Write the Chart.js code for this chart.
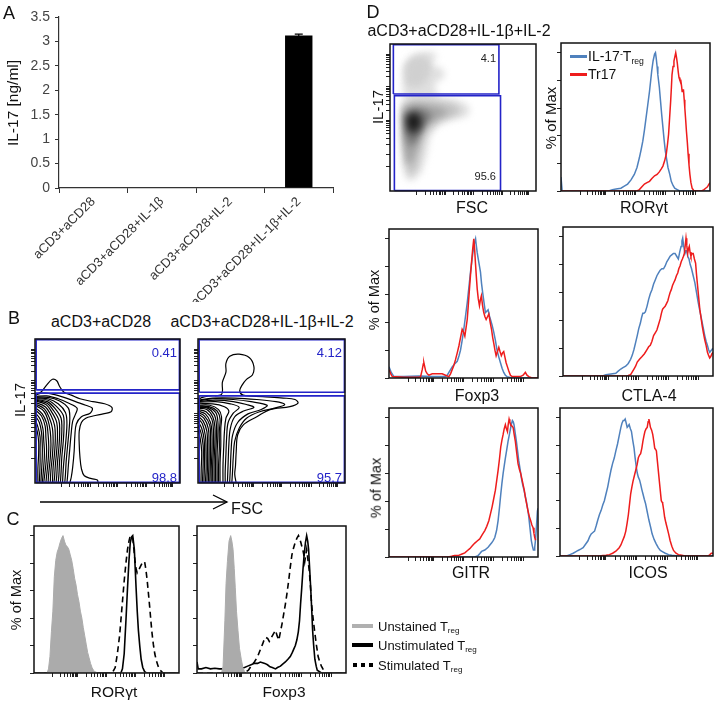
<!DOCTYPE html>
<html><head><meta charset="utf-8">
<script src="https://cdn.jsdelivr.net/npm/chart.js@4.4.1/dist/chart.umd.min.js"></script>
<style>
html,body{margin:0;padding:0;background:#fff;}
body{width:718px;height:705px;position:relative;overflow:hidden;font-family:"Liberation Sans",Arial,sans-serif;color:#111;}
canvas{position:absolute;}
.t{position:absolute;white-space:nowrap;transform:translate(-50%,-50%);line-height:1;}
.rot{transform:translate(-50%,-50%) rotate(-90deg);}
.gn{position:absolute;white-space:nowrap;line-height:1;transform:translate(-100%,-50%);}
.lg{position:absolute;white-space:nowrap;line-height:1;transform:translate(0,-50%);}
sub{font-size:0.62em;vertical-align:-0.3em;line-height:0;}
sup{font-size:0.62em;vertical-align:0.5em;line-height:0;}
.sw{position:absolute;}
</style></head><body>
<script>
// ---------------- DATA ----------------
// Panel A
const categoriesA = ['aCD3+aCD28', 'aCD3+aCD28+IL-1\u03B2', 'aCD3+aCD28+IL-2', 'aCD3+aCD28+IL-1\u03B2+IL-2'];
const il17Mean = [0, 0, 0, 3.12];
const il17Err = [0, 0, 0, 0.03];
const yTicksA = [0, 0.5, 1, 1.5, 2, 2.5, 3, 3.5];

// Panel B contour plots (FSC x, IL-17 y; 0-100 display units)
const bLeftContours = [
 [[0,61.5],[4,63],[8,68],[12,72],[15,71],[17,67],[20,63],[25,61],[31,58.5],[40,56.5],[48,55],[53,52.5],[52.5,49.5],[47,48],[40,46.5],[35,45],[32,42],[30.5,36],[30.5,27],[31,18],[32,10],[34,5],[39,3],[43,2],[43.5,0]],
 [[0,61],[6,62.5],[13,61.5],[20,59.5],[28,56.5],[35,54],[39.5,52],[38,48.5],[32,46],[28.5,41],[27.5,33],[27,22],[26,11],[25,4],[24,0]],
 [[0,60],[8,60.5],[16,58.5],[23,55.5],[29,52],[28,48],[26,43],[25,35],[24,24],[23,12],[22.5,5],[22,0]],
 [[0,59.5],[9,59.5],[17,57],[23,52],[24,46],[23.5,37],[22.5,26],[21.5,15],[21,6],[20.5,0]],
 [[0,59],[9,58.5],[16,55],[21,49],[22,42],[21.5,32],[20.5,21],[19.5,10],[19,0]],
 [[0,58.5],[9,57.5],[15,53],[19.5,47],[20,39],[19.5,29],[18.5,18],[18,8],[17.5,0]],
 [[0,58],[8.5,56.5],[14,51.5],[18,45],[18.5,37],[18,27],[17,16],[16.5,6],[16,0]],
 [[0,57.5],[8,55.5],[13,50],[16.5,43.5],[17,35],[16.5,25],[15.5,14],[15,5],[14.5,0]],
 [[0,57],[7.5,54.5],[12,48.5],[15,42],[15.5,33],[15,23],[14,12],[13.5,4],[13,0]],
 [[0,56],[7,53],[11,47],[13.5,40],[14,31],[13.5,21],[12.5,11],[12,0]],
 [[0,55],[6.5,51.5],[10,45],[12,38],[12.5,29],[12,19],[11,9],[10.5,0]],
 [[0,54],[6,50],[9,43.5],[10.5,36],[11,27],[10.5,17],[9.5,7],[9,0]],
 [[0,52.5],[5,48],[8,41.5],[9,34],[9.5,25],[9,15],[8,5],[7.5,0]],
 [[0,51],[4.5,46.5],[7,39.5],[7.5,32],[8,23],[7.5,13],[6.5,4],[6,0]],
 [[0,49],[3.5,44.5],[5.5,37.5],[6,30],[6.5,21],[6,11],[5,0]],
 [[0,47],[3,42],[4.5,35],[5,27],[5,18],[4.5,8],[4,0]],
 [[0,44],[2,39],[3.5,32],[3.5,24],[3.5,14],[3,0]],
 [[0,41],[1.5,36],[2.5,29],[2.5,20],[2,10],[2,0]]
];
const bRightContours = [
 [[0,58],[3,59.5],[8,60.5],[16,61.5],[16.6,70],[19,77],[19,83],[21.6,88],[28,89.5],[35,87],[38,81],[37,75],[33,72],[30,68],[28.4,64],[30.7,61],[44,60],[58,59],[66,58],[68,55.5],[62.5,53],[49,51],[40,46],[31,40.5],[27,33.5],[26,22],[25.5,12],[25,6],[26,0]],
 [[0,57.5],[10,59],[25,59],[40,58],[53,56.5],[59,54.5],[52,52],[42,49.5],[33,45],[28,38],[25,29],[24,18],[23.5,8],[23,0]],
 [[0,57],[10,58.5],[24,58],[36,56.5],[47,54],[43,51],[34,48],[27,42],[23.5,33],[22.5,22],[22,10],[21.5,0]],
 [[0,56.5],[12,57.5],[24,56.5],[33,54.5],[38,52.5],[31,50],[25,46],[22,38],[21,27],[20.5,14],[20,0]],
 [[0,56],[12,56.5],[22,55],[28,52.5],[24,48.5],[20.5,42],[19.5,32],[19,20],[18.5,8],[18.5,0]],
 [[0,55],[10,55],[18,53],[21,50],[19,45],[18,36],[17.5,25],[17,12],[17,0]],
 [[0,54],[8,54],[14,51],[16,46],[15.5,38],[15.5,26],[15,14],[15,0]],
 [[0,53.5],[7.5,53],[13,50],[15,44.5],[14.5,36],[14.5,24],[14,12],[14,0]],
 [[0,53],[7,52.5],[12,49],[13.5,43],[13.5,33],[13,20],[13,8],[13,0]],
 [[0,52.5],[6.5,52],[11,47.5],[12.5,41],[12.5,31],[12,18],[12,0]],
 [[0,52],[6,51],[10,46],[11.5,39],[11.5,28],[11,16],[11,0]],
 [[0,51],[5.5,49.5],[9.5,44],[10.5,36.5],[10.5,25],[10,13],[10,0]],
 [[0,50],[5,48],[8.5,42],[9.5,34],[9.5,22],[9,10],[9,0]],
 [[0,49],[4.5,46.5],[8,40],[8.5,31],[8.5,19],[8,0]],
 [[0,48],[4,45],[7,38],[7.5,28],[7.5,16],[7,0]],
 [[0,46.5],[3.5,43],[6,36],[6.5,25],[6.5,13],[6,0]],
 [[0,45],[3,41],[5,33],[5.5,22],[5.5,10],[5,0]],
 [[0,43],[2.5,38],[4.2,30],[4.5,18],[4,0]],
 [[0,40],[2,35],[3.5,26],[3.5,14],[3,0]],
 [[0,37],[1.5,31],[2.5,22],[2.2,10],[2,0]]
];
// gates: [x0, x1, y0, y1]
const bLeftGateUpper = [0.8, 99.6, 64.7, 99.6];
const bLeftGateLower = [0.8, 99.6, 0.4, 62.4];
const bRightGateUpper = [0.8, 99.6, 63.0, 99.6];
const bRightGateLower = [0.8, 99.6, 0.4, 60.5];
const bGateLabels = {left: ['0.41', '98.8'], right: ['4.12', '95.7']};

// Panel C histograms [x, % of Max]
const cRorUnstained = [[0,0],[9,0],[10,3],[11,12],[12,30],[13,45],[14,70],[15,82],[16,88],[17,91],[18,95],[19,98],[20,100],[21,96],[22,93],[23,92],[24,90],[25,86],[26,82],[27,76],[28,69],[29,64],[30,57],[31,52],[32,45],[33,40],[34,33],[35,27],[36,21],[37,15],[38,11],[39,7],[40,4],[41,2],[42,1],[44,0],[100,0]];
const cRorUnstim = [[0,0],[59.9,0],[61,3],[62.2,14],[63.4,38],[64.5,62],[65.5,82],[66.4,95],[67.3,99],[68.1,100],[69.2,90],[70.4,62],[71.2,45],[72,31],[73,19],[73.9,10],[75,4],[76.3,1],[77.5,0],[100,0]];
const cRorStim = [[0,0],[54,0],[56,4],[57.5,14],[59,27],[59.9,38],[61,52],[62.2,67],[63.4,80],[64.5,90],[65.5,96],[66.4,100],[67.3,99],[68.1,98],[68.9,90],[69.7,81],[70.4,76],[71.1,73],[71.9,75],[72.7,76],[73.6,78],[74.6,80],[75.5,81],[76.3,81],[77.2,75],[78.1,67],[79,57],[79.8,48],[80.6,38],[81.4,29],[82.3,21],[83.3,14],[84.4,9],[85.6,5],[87,2],[89,0],[100,0]];
const cFoxUnstained = [[0,0],[16.5,0],[17.5,5],[18.7,38],[19.5,65],[20.4,81],[21.5,96],[22.6,100],[23.4,96],[24.2,90],[25,76],[25.7,62],[26.5,45],[27.5,31],[28.5,18],[29.7,10],[30.8,4],[31.9,1],[33,0],[100,0]];
const cFoxUnstim = [[0,8],[0.8,3],[3,3],[6,4],[9,3],[12,3.5],[15,3],[18,3],[22,3],[26,3],[30,3.5],[31.9,4],[34,5],[36.3,6],[38.5,7],[40.7,7],[42.5,8],[44,7.5],[45.5,7],[47.3,6],[49,4.5],[50.5,4],[52.7,3],[54,4],[56,5],[57.5,6.5],[59.3,8],[61,10],[62.6,12],[64,15],[64.8,17],[66,20],[67,24],[68,30],[68.8,38],[69.5,50],[70.3,62],[71.1,75],[71.9,86],[72.8,95],[73.6,100],[74.3,96],[74.9,90],[75.6,76],[76.3,62],[77,46],[77.6,31],[78.3,20],[79.1,10],[80,5],[80.7,2],[83.5,0],[100,0]];
const cFoxStim = [[0,0],[31,0],[33,1],[34.5,2],[36.3,5],[38.5,8],[40.7,12],[42.5,17],[44,21],[45,24],[46.2,26],[47.5,25],[48.5,23],[49.5,25],[51,28],[52.7,31],[53.8,27],[54.9,24],[56,30],[57.1,36],[58.2,43],[59.3,50],[60.4,58],[61.5,67],[62.6,77],[63.7,86],[64.8,91],[65.9,95],[67,98],[68.1,100],[68.9,98],[69.7,95],[70.4,92],[71,90],[71.7,86],[72.3,81],[73,86],[73.6,90],[74.5,82],[75.4,74],[76.2,62],[76.9,50],[78,39],[79.1,29],[80.2,20],[81.3,12],[82.4,8],[83.5,5],[85,2],[86.8,0],[100,0]];

// Panel D density plot layers (FSC x, IL-17 y) and gates
const dDensityLayers = [
 {shade:'#e0e0e0', pts:[[10,87],[15.7,93],[25,95],[30.7,94],[32,90],[28,88],[29.6,85],[35,84],[37.6,80],[36.5,76],[32,75],[30.7,70],[33,64],[45.7,62],[52.6,59],[55,55],[52.6,50.5],[41,48],[32,44],[27,36],[25,24],[21.5,12.6],[15.7,7],[11,8],[8.8,17],[7.6,36],[7.6,52],[9.2,61],[8.8,70],[9.2,82]]},
 {shade:'#d0d0d0', pts:[[10,84],[14,90],[22,92],[27,89],[28,83],[27,78],[22,72],[16,70],[11,73]]},
 {shade:'#c2c2c2', pts:[[8.8,59],[18,62],[32,61],[43.4,59],[49,55],[45.7,52],[34,48],[25,40],[21.5,29],[18,15],[13.4,10],[10.6,19.5],[9.2,36],[8.8,49]]},
 {shade:'#a2a2a2', pts:[[9,56],[16,59],[26,58],[36,56],[40,53],[33,50],[25,46],[20,38],[18,28],[15,20],[12,18],[10,28],[9,42]]},
 {shade:'#767676', pts:[[10,52],[16,56],[24,55],[29,51],[24,46],[20,38],[17,32],[13,31],[11,38]]},
 {shade:'#444444', pts:[[11,50],[15,54],[21,52],[23,47],[20,41],[16,38],[12,40]]},
 {shade:'#141414', pts:[[12.5,49],[15.5,52],[19,50],[19.5,46],[17,42],[14,42]]}
];
const dGateUpper = [2.3, 74.6, 66.0, 99.5];
const dGateLower = [3.0, 75.7, 0.3, 64.8];
const dGateLabels = ['4.1', '95.6'];

// Panel D histograms
const dRorIl17neg = [[0,10],[0.8,0],[32,0],[34.5,1],[37,1.5],[40.2,2],[42.5,3.5],[44.7,5],[47,8],[49.2,12],[51,17],[52.6,24],[53.8,30],[54.9,36],[56,44],[57.1,53],[58.2,62],[59.4,72],[60.2,80],[60.9,87],[61.8,94],[62.8,99],[63.4,100],[63.9,96],[64.5,90],[65,84],[66,75],[66.8,65],[67.6,55],[68.4,46],[69.2,37],[70,29],[70.9,23],[71.8,17],[73,12],[74,7],[75.2,4],[76.3,2],[78,1],[79.7,0],[100,0]];
const dRorTr17 = [[0,0],[51,0],[52.6,1],[54.3,3],[56,5],[57.7,6],[59.4,7],[61,9],[62.8,11],[64.5,12],[66.1,14],[67.3,16],[68.4,18],[69.6,22],[70.7,27],[71.5,34],[72.2,41],[72.9,53],[73.6,65],[74.1,75],[74.5,84],[75.2,90],[75.8,94],[76.4,97],[77,100],[77.6,96],[78.1,92],[78.7,86],[79.2,82],[79.8,80],[80.4,80],[80.9,76],[81.3,72],[81.8,73],[82.2,73],[82.7,66],[83.1,60],[83.7,51],[84.2,43],[84.8,35],[85.3,27],[85.9,19],[86.5,12],[87.2,6],[88,2],[89,0.5],[89.8,0],[94.4,0],[96,1],[97.1,2],[98.3,3],[99.3,5],[100,6]];
const dFoxIl17neg = [[0,8],[0.4,8],[1.5,4],[3.3,1],[10,1],[20,1.5],[30,1],[37.9,1],[39.1,2],[40.7,5],[42.4,8],[44,10],[45.8,12],[47,16],[48,20],[49.1,27],[50.2,35],[51.3,44],[52.5,54],[53.6,65],[54.7,76],[55.5,83],[56.3,90],[57,95],[57.6,98],[58.1,100],[58.5,96],[59.2,90],[59.8,86],[60.6,81],[61.4,76],[62.1,68],[62.9,61],[63.8,54],[64.7,47],[65.6,48],[66.5,49],[67.3,45],[68.1,42],[69.2,38],[70.3,33],[71.4,27],[72.5,20],[73.7,15],[74.8,11],[75.9,7],[77,4],[78.1,2],[79.2,1],[82.6,0],[100,0]];
const dFoxTr17 = [[0,6],[0.4,6],[1.2,3],[2.2,1],[10,0.5],[20,0.5],[21.2,1],[22.3,6],[23,10],[23.4,11],[24,8],[24.6,5],[25.7,3],[26.8,2],[29,3],[31,3],[33.5,3],[35.7,3],[37.9,2],[40.2,1],[41.3,3],[42.4,6],[43.5,9],[44.6,13],[45.8,18],[46.9,23],[48,29],[49.1,35],[50,33],[50.9,30],[51.7,36],[52.5,42],[53.2,52],[54,64],[54.7,74],[55.4,83],[56.2,93],[56.9,100],[57.5,92],[58,83],[58.6,73],[59.2,64],[59.9,57],[60.7,52],[61.3,56],[62,59],[62.8,52],[63.6,47],[64.4,44],[65.2,42],[66.1,44],[67,46],[67.9,40],[68.8,35],[69.6,29],[70.3,25],[71.1,20],[71.9,16],[72.8,19],[73.7,22],[74.5,19],[75.4,16],[76.2,18],[77,19],[77.8,15],[78.6,11],[79.5,8],[80.4,5],[81.5,2],[82.6,1],[88.2,1],[90,2],[91.5,4],[92.6,2],[93.8,1],[96,0],[100,0]];
const dCtlaIl17neg = [[0,0],[26.4,0],[28.6,1],[32,1.5],[35.2,2],[36.8,3.5],[38.5,5],[40,6],[41.8,7],[43.5,9],[45.1,12],[46.2,15],[47.3,19],[48.4,24],[49.5,29],[50.5,34],[51.6,38],[52.4,42],[53.2,45],[54,45],[54.9,46],[56,50],[57.1,55],[58.2,59],[59.3,62],[60.4,66],[61.5,69],[62.6,72],[63.7,74],[64.8,76],[65.9,77],[67,77],[68.1,79],[69.2,82],[70.3,84],[71.4,86],[72.5,87],[73.6,88],[74.7,88],[75.8,86],[76.9,84],[77.8,89],[78.7,93],[79.3,97],[79.8,99],[80.5,93],[81.3,88],[81.9,90],[82.4,90],[83.2,86],[84,84],[84.8,80],[85.7,77],[86.8,72],[87.9,67],[89,60],[90.1,53],[91.2,47],[92.3,41],[93.4,35],[94.5,29],[95.4,25],[96.3,22],[97,19],[97.8,17],[98.5,18],[99.3,19],[100,20]];
const dCtlaTr17 = [[0,0],[42.9,0],[44,0.5],[45.1,1],[46.2,3],[47.3,5],[48.4,7],[49.5,10],[51,12],[52.7,14],[54.3,16],[56,19],[57.1,21],[58.2,22],[59.3,25],[60.4,29],[61.5,31],[62.6,33],[63.7,37],[64.8,41],[65.6,45],[66.4,48],[67.2,49],[68.1,50],[69,52],[69.9,54],[70.6,57],[71.4,60],[72.2,62],[73,65],[73.8,67],[74.7,69],[75.6,72],[76.5,74],[77.2,77],[78,79],[78.8,82],[79.6,84],[80.3,86],[80.9,88],[81.5,94],[82,99],[82.5,94],[83.1,88],[83.6,91],[84.2,93],[84.7,89],[85.3,86],[86,88],[86.8,88],[87.6,84],[88.4,81],[89,73],[89.7,65],[90.4,57],[91.2,48],[92,42],[92.8,36],[93.6,31],[94.5,26],[95.4,22],[96.3,17],[97,15],[97.8,13],[98.5,14],[99.3,16],[100,17]];
const dGitrIl17neg = [[0,0],[57.6,0],[59.8,1],[61,2.5],[62.1,4],[64.3,5],[66.5,7],[68.8,10],[70,12],[71,14],[72.2,19],[73.2,26],[74.1,35],[75,45],[75.8,53],[76.6,60],[77.4,66],[78.1,71],[79,77],[79.9,83],[80.8,88],[81.7,93],[82.3,96],[82.8,98],[83.4,97],[83.9,95],[84.7,89],[85.5,83],[86.3,76],[87.1,69],[88,63],[88.8,57],[89.7,52],[90.6,48],[91.4,44],[92.2,40],[93,35],[93.8,29],[94.7,20],[95.5,12],[96.2,8],[96.9,5],[97.4,5],[97.8,7],[98.4,13],[98.9,21],[99.6,33],[100,35]];
const dGitrTr17 = [[0,0],[39.7,0],[42,0.5],[44,1],[46.4,1],[48.6,2],[50.9,3],[52.5,4.5],[54.2,6],[55.9,8],[57.6,10],[59.2,11.5],[60.9,13],[62.6,16],[64.3,19],[65.6,22],[67,26],[68.1,31],[69.2,36],[70.3,42],[71.4,48],[72.3,55],[73.2,62],[74.1,70],[75,79],[75.8,84],[76.6,88],[77.3,92],[78.1,95],[78.8,92],[79.5,90],[80,95],[80.6,99],[81.1,97],[81.7,95],[82.5,94],[83.3,93],[84,88],[84.8,83],[85.7,75],[86.6,67],[87.5,63],[88.4,60],[89.2,56],[90,52],[90.8,48],[91.5,43],[92.4,38],[93.3,33],[94.2,29],[95.1,26],[95.9,23],[96.7,21],[97.3,17],[97.8,14],[98.4,12]];
const dIcosIl17neg = [[0,0],[4.3,0],[6.5,1],[8.6,2],[10.2,3],[11.8,4],[13.5,5],[15.1,6],[16.7,8.5],[18.3,11],[19.4,14],[20.4,16],[21.5,17],[22.6,18],[23.7,22],[24.7,26],[25.8,30],[26.9,33],[28,37],[29,40],[30.1,45],[31.2,50],[32.2,56],[33.3,62],[34.4,67],[35.5,71],[36.5,76],[37.6,81],[38.7,87],[39.8,93],[40.5,96],[41.3,98],[42,98],[42.6,99],[43.3,96],[43.9,93],[44.6,94],[45.2,95],[46,92],[46.7,90],[47.5,84],[48.4,78],[49.1,71],[49.9,64],[50.5,60],[51.2,57],[52,55],[52.7,52],[53.5,48],[54.2,45],[55.1,41],[55.9,38],[57,32],[58.1,26],[59.2,21],[60.2,16],[61.5,12],[62.8,9],[64.2,6],[65.6,4],[67.2,3],[68.8,2],[71,1],[73.1,0.5],[77.4,0],[100,0]];
const dIcosTr17 = [[0,0],[25.8,0],[28,0.3],[30.1,0.5],[32.3,1],[34.4,2],[36.5,3.5],[38.7,6],[39.8,8],[40.9,11],[42,14],[43,18],[43.9,24],[44.7,30],[45.5,38],[46.2,45],[47,50],[47.7,54],[48.6,58],[49.5,62],[50.4,66],[51.2,71],[52,73],[52.7,74],[53.5,78],[54.2,83],[54.9,87],[55.5,90],[56.3,92],[57,93],[57.6,97],[58.1,99],[58.6,96],[59.1,93],[59.9,91],[60.6,88],[61.3,83],[61.9,78],[62.5,77],[63,76],[63.7,68],[64.5,59],[65.3,50],[66.2,40],[66.7,39],[67.1,38],[67.8,33],[68.4,28],[69.2,24],[69.9,21],[71,16],[72,11],[73.1,7],[74.2,4],[75.8,2],[77.4,1],[79.5,0.5],[81.7,0],[96.8,0],[98,1],[98.9,2],[100,2]];

// Axis tick positions (no labels on flow axes)
const histYTicks = [0, 20, 40, 60, 80, 100];
const histXMajor = [13, 30, 50, 70, 90];
const flowYMajor = [17, 25, 48, 71, 93];
const flowXMajor = [18, 38, 57, 77, 95];

// ---------------- HELPERS ----------------
const FONT = '"Liberation Sans", Arial, sans-serif';
Chart.defaults.font.family = FONT;
Chart.defaults.color = '#333';
const BLUE = '#4f81bd', RED = '#ee1c1c', GATE = '#2424c8';

function withMinor(majors) {
  const out = majors.slice();
  for (let i = 0; i < majors.length - 1; i++) {
    const a = majors[i], b = majors[i + 1];
    if (b - a < 12) continue;
    for (let k = 2; k <= 9; k++) out.push(a + (b - a) * Math.log10(k));
  }
  return out;
}
const pts = arr => arr.map(([x, y]) => ({x, y}));
function zeroPad(s) { s.paddingLeft = s.paddingRight = s.paddingTop = s.paddingBottom = 0; }
function axis(kind, size, ticks, min, max) {
  return {
    type: 'linear', min, max,
    ticks: {display: false},
    border: {display: false},
    grid: {drawOnChartArea: false, drawTicks: true, tickLength: 4, color: '#222', lineWidth: 1},
    afterBuildTicks: s => { s.ticks = ticks.map(v => ({value: v})); },
    afterFit: s => { if (kind === 'x') s.height = size; else s.width = size; zeroPad(s); }
  };
}
const framePlugin = {
  id: 'frame',
  afterDraw(chart) {
    const a = chart.chartArea, ctx = chart.ctx;
    ctx.save(); ctx.strokeStyle = '#111'; ctx.lineWidth = 1.5;
    ctx.strokeRect(a.left, a.top, a.right - a.left, a.bottom - a.top);
    ctx.restore();
  }
};
const densityPlugin = {
  id: 'density',
  beforeDatasetsDraw(chart) {
    const ctx = chart.ctx, a = chart.chartArea;
    ctx.save();
    ctx.beginPath(); ctx.rect(a.left, a.top, a.right - a.left, a.bottom - a.top); ctx.clip();
    ctx.filter = 'blur(3.5px)';
    chart.data.datasets.forEach((ds, i) => {
      if (!ds.densityFill) return;
      const p = chart.getDatasetMeta(i).data;
      ctx.beginPath();
      p.forEach((q, j) => j ? ctx.lineTo(q.x, q.y) : ctx.moveTo(q.x, q.y));
      ctx.closePath(); ctx.fillStyle = ds.densityFill; ctx.fill();
    });
    ctx.restore();
  }
};
function addCanvas(left, top, w, h) {
  const c = document.createElement('canvas');
  c.width = w; c.height = h;
  c.style.left = left + 'px'; c.style.top = top + 'px';
  c.style.width = w + 'px'; c.style.height = h + 'px';
  document.body.appendChild(c);
  return c;
}
function flowChart(box, datasets, xt, yt, ymax, extraPlugins) {
  const padL = 7, padT = 2, padR = 2, padB = 7;
  const w = box[2] - box[0] + padL + padR, h = box[3] - box[1] + padT + padB;
  const c = addCanvas(box[0] - padL, box[1] - padT, w, h);
  return new Chart(c, {
    type: 'line',
    data: {datasets},
    options: {
      responsive: false, animation: false, devicePixelRatio: 1,
      layout: {padding: {top: padT, right: padR, left: 0, bottom: 0}},
      elements: {point: {radius: 0, hoverRadius: 0}},
      plugins: {legend: {display: false}, tooltip: {enabled: false}},
      events: [],
      scales: {x: axis('x', padB, xt, 0, 100), y: axis('y', padL, yt, 0, ymax)}
    },
    plugins: [framePlugin].concat(extraPlugins || [])
  });
}
function hist(arr, color, width, dash) {
  return {data: pts(arr), borderColor: color, borderWidth: width, borderDash: dash || [], fill: false, tension: 0, pointRadius: 0};
}
function grayFill(arr) {
  return {data: pts(arr), borderColor: '#ababab', backgroundColor: '#ababab', borderWidth: 1, fill: 'origin', tension: 0, pointRadius: 0};
}
function contour(arr) {
  return {data: pts(arr), borderColor: '#000', borderWidth: 1.2, fill: false, tension: 0.35, pointRadius: 0};
}
function gate(g, color, width) {
  const [x0, x1, y0, y1] = g;
  return {data: pts([[x0, y0], [x0, y1], [x1, y1], [x1, y0], [x0, y0]]), borderColor: color, borderWidth: width, fill: false, tension: 0, pointRadius: 0, clip: 4};
}
function text(html, x, y, size, extra) {
  const d = document.createElement('div');
  d.className = 't' + (extra && extra.rot ? ' rot' : '');
  d.style.left = x + 'px'; d.style.top = y + 'px'; d.style.fontSize = size + 'px';
  if (extra && extra.color) d.style.color = extra.color;
  d.innerHTML = html;
  document.body.appendChild(d);
}
function textCls(cls, html, x, y, size, color) {
  const d = document.createElement('div');
  d.className = cls; d.style.left = x + 'px'; d.style.top = y + 'px'; d.style.fontSize = size + 'px';
  if (color) d.style.color = color;
  d.innerHTML = html; document.body.appendChild(d);
}
function swatch(x, y, w, h, color) {
  const d = document.createElement('div'); d.className = 'sw';
  d.style.left = x + 'px'; d.style.top = y + 'px'; d.style.width = w + 'px'; d.style.height = h + 'px'; d.style.background = color;
  document.body.appendChild(d);
}

// ---------------- PANEL A ----------------
const errPlugin = {
  id: 'errbar',
  afterDatasetsDraw(chart) {
    const meta = chart.getDatasetMeta(0), y = chart.scales.y, ctx = chart.ctx;
    ctx.save(); ctx.strokeStyle = '#000'; ctx.lineWidth = 1.2;
    meta.data.forEach((bar, i) => {
      const e = il17Err[i]; if (!e) return;
      const top = y.getPixelForValue(il17Mean[i] + e), bot = y.getPixelForValue(il17Mean[i] - e);
      ctx.beginPath(); ctx.moveTo(bar.x, top); ctx.lineTo(bar.x, bot);
      ctx.moveTo(bar.x - 4, top); ctx.lineTo(bar.x + 4, top); ctx.stroke();
    });
    ctx.restore();
  }
};
(function () {
  const c = addCanvas(0, 0, 345, 302);
  new Chart(c, {
    type: 'bar',
    data: {labels: categoriesA, datasets: [{data: il17Mean, backgroundColor: '#000', borderWidth: 0, barPercentage: 0.4, categoryPercentage: 1}]},
    options: {
      responsive: false, animation: false, devicePixelRatio: 1, events: [],
      layout: {padding: {top: 17, right: 12, left: 0, bottom: 0}},
      plugins: {legend: {display: false}, tooltip: {enabled: false}},
      scales: {
        x: {
          grid: {offset: true, drawOnChartArea: false, tickLength: 5, color: '#333'},
          border: {color: '#333', width: 1.2},
          ticks: {maxRotation: 45, minRotation: 45, autoSkip: false, font: {size: 13}, color: '#333', padding: 1},
          afterFit: s => { s.height = 114; zeroPad(s); }
        },
        y: {
          min: 0, max: 3.5,
          afterBuildTicks: s => { s.ticks = yTicksA.map(v => ({value: v})); },
          ticks: {font: {size: 14}, color: '#444', padding: 5, callback: v => String(v)},
          grid: {drawOnChartArea: false, tickLength: 4, color: '#333'},
          border: {color: '#333', width: 1.2},
          afterFit: s => { s.width = 59; zeroPad(s); }
        }
      }
    },
    plugins: [errPlugin]
  });
})();
text('A', 9, 13, 18);
text('IL-17 [ng/ml]', 13, 103, 15.5, {rot: true});

// ---------------- PANEL B ----------------
const flowXT = withMinor(flowXMajor), flowYT = withMinor(flowYMajor);
flowChart([35, 339, 180, 483],
  [gate(bLeftGateUpper, GATE, 1.6), gate(bLeftGateLower, GATE, 1.6)].concat(bLeftContours.map(contour)),
  flowXT, flowYT, 100);
flowChart([198, 339, 345, 483],
  [gate(bRightGateUpper, GATE, 1.6), gate(bRightGateLower, GATE, 1.6)].concat(bRightContours.map(contour)),
  flowXT, flowYT, 100);
text('B', 14, 318, 18);
text('aCD3+aCD28', 101, 322, 16);
text('aCD3+aCD28+IL-1\u03B2+IL-2', 262, 322, 16);
text('IL-17', 19, 400, 15, {rot: true});
textCls('gn', bGateLabels.left[0], 177, 352, 13, GATE);
textCls('gn', bGateLabels.left[1], 177, 477, 13, GATE);
textCls('gn', bGateLabels.right[0], 342, 352, 13, GATE);
textCls('gn', bGateLabels.right[1], 342, 477, 13, GATE);
document.body.insertAdjacentHTML('beforeend',
  '<svg style="position:absolute;left:0;top:0" width="718" height="705"><g stroke="#000" stroke-width="1.3" fill="none">' +
  '<line x1="40" y1="502" x2="227" y2="502"/><polyline points="213,495 227,502 213,509"/></g></svg>');
text('FSC', 247, 509, 16);

// ---------------- PANEL C ----------------
const histXT = withMinor(histXMajor);
flowChart([34, 526, 179, 673],
  [grayFill(cRorUnstained), hist(cRorUnstim, '#000', 1.6), hist(cRorStim, '#000', 1.6, [6, 4])],
  histXT, histYTicks, 107);
flowChart([197, 526, 346, 673],
  [grayFill(cFoxUnstained), hist(cFoxUnstim, '#000', 1.6), hist(cFoxStim, '#000', 1.6, [6, 4])],
  histXT, histYTicks, 107);
text('C', 13, 519, 18);
text('% of Max', 16, 600, 14.5, {rot: true});
text('ROR\u03B3t', 114, 692, 15.5);
text('Foxp3', 284, 692, 15.5);
swatch(352, 624, 21, 4, '#b0b0b0');
swatch(352, 643, 21, 4, '#000');
swatch(353, 663, 4, 4, '#000'); swatch(361, 663, 4, 4, '#000'); swatch(369, 663, 4, 4, '#000');
textCls('lg', 'Unstained T<sub>reg</sub>', 378, 626, 13);
textCls('lg', 'Unstimulated T<sub>reg</sub>', 378, 645, 13);
textCls('lg', 'Stimulated T<sub>reg</sub>', 378, 665, 13);

// ---------------- PANEL D ----------------
const densSets = dDensityLayers.map(l => ({data: pts(l.pts), densityFill: l.shade, showLine: false, borderWidth: 0, pointRadius: 0, fill: false}));
flowChart([390, 44, 536, 191],
  [gate(dGateUpper, GATE, 1.6), gate(dGateLower, GATE, 1.6)].concat(densSets),
  flowXT, flowYT, 100, [densityPlugin]);
function histD(box, red, blue) {
  const r = hist(red, RED, 1.5), b = hist(blue, BLUE, 1.5);
  flowChart(box, [r, b], histXT, histYTicks, 107);
}
histD([561, 43, 710, 191], dRorTr17, dRorIl17neg);
histD([389, 229, 538, 378], dFoxTr17, dFoxIl17neg);
histD([563, 227, 713, 376], dCtlaTr17, dCtlaIl17neg);
histD([389, 408, 538, 557], dGitrTr17, dGitrIl17neg);
histD([560, 408, 713, 556], dIcosTr17, dIcosIl17neg);

text('D', 373, 12, 18);
text('aCD3+aCD28+IL-1\u03B2+IL-2', 459, 31, 16);
text('IL-17', 377, 107, 15, {rot: true});
textCls('gn', dGateLabels[0], 496, 58, 11, '#222');
textCls('gn', dGateLabels[1], 496, 176, 11, '#222');
text('FSC', 472, 208, 16);
text('% of Max', 550, 118, 15, {rot: true});
text('ROR\u03B3t', 644, 208, 16);
swatch(570, 55, 17, 3, BLUE);
swatch(570, 73, 17, 3, RED);
textCls('lg', 'IL-17<sup>-</sup>T<sub>reg</sub>', 588, 56, 14);
textCls('lg', 'Tr17', 588, 74, 14);
text('% of Max', 374, 300, 14.5, {rot: true});
text('Foxp3', 477, 396, 16);
text('CTLA-4', 649, 396, 16);
text('% of Max', 376, 488, 14.5, {rot: true});
text('GITR', 471, 573, 16);
text('ICOS', 648, 573, 16);
</script>
</body></html>
